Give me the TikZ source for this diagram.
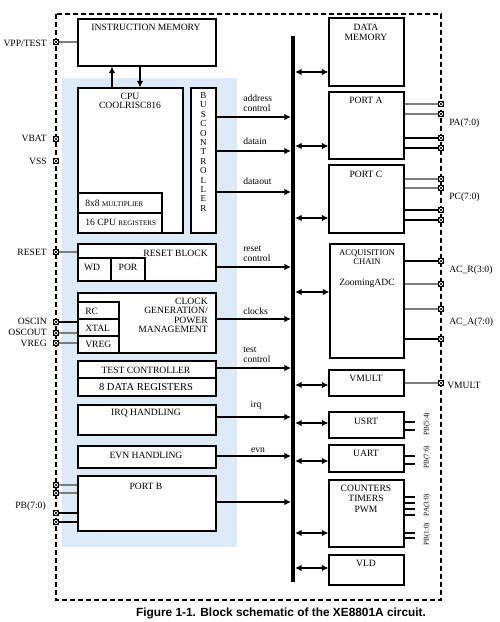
\documentclass[tikz,border=0pt]{standalone}
\usepackage{fontspec}
\setmainfont{Liberation Serif}
\newfontfamily\capfont{Liberation Sans}
\usetikzlibrary{arrows.meta,fit}
\definecolor{bluebg}{RGB}{221,234,247}
\definecolor{pingray}{RGB}{125,125,125}
\begin{document}
\begin{tikzpicture}[x=0.75pt,y=-0.75pt,
  box/.style={draw,line width=0.8pt,fill=white,inner sep=0pt},
  txt/.style={font=\fontsize{7.2}{8}\selectfont,inner sep=0pt},
  sm/.style={font=\fontsize{5.4}{6}\selectfont,inner sep=0pt},
  sig/.style={line width=1.6pt,-{Latex[length=5pt,width=5pt]},shorten >=1.5pt},
  sigin/.style={line width=1.6pt,{Latex[length=5pt,width=5pt]}-,shorten <=1.5pt},
  bidir/.style={line width=1.6pt,{Latex[length=5pt,width=5pt]}-{Latex[length=5pt,width=5pt]},shorten <=1.5pt},
  pinbox/.style={draw,fill=white,line width=0.6pt,minimum size=4pt,inner sep=0pt,
    path picture={\draw[line width=0.5pt] (path picture bounding box.north west)--(path picture bounding box.south east)
      (path picture bounding box.north east)--(path picture bounding box.south west);}},
  gl/.style={draw=pingray,line width=0.9pt},
  bl/.style={draw=black,line width=0.8pt},
]
\useasboundingbox (0,0) rectangle (500,622);
% frame and region
\draw[line width=1.1pt,dash pattern=on 3.8pt off 2.2pt] (56,14) rectangle (441,600);
\fill[bluebg] (62,78) rectangle (237,547);

% left blocks
\node[box,fit={(78,19) (216,66)}] (im) {};
\node[box,fit={(78,88) (183,233)}] (cpu) {};
\node[box,fit={(78,193) (162,213)}] (mul) {};
\node[box,fit={(78,213) (162,233)}] (reg) {};
\node[box,fit={(191,88) (216,233)}] (bc) {};
\node[box,fit={(78,244) (216,281)}] (rst) {};
\node[box,fit={(78,258) (111,281)}] (wd) {};
\node[box,fit={(111,258) (145,281)}] (por) {};
\node[box,fit={(78,293) (216,353)}] (clk) {};
\node[box,fit={(78,302) (119,319)}] (rc) {};
\node[box,fit={(78,319) (119,336)}] (xtal) {};
\node[box,fit={(78,336) (119,353)}] (vreg) {};
\node[box,fit={(78,361) (216,378)}] (tc) {};
\node[box,fit={(78,378) (216,396)}] (dr) {};
\node[box,fit={(78,405) (216,435)}] (irq) {};
\node[box,fit={(78,446) (216,468)}] (evn) {};
\node[box,fit={(78,476) (216,531)}] (pb) {};

% right blocks
\node[box,fit={(329,18) (404,86)}] (dm) {};
\node[box,fit={(329,92) (404,159)}] (pa) {};
\node[box,fit={(329,165) (404,233)}] (pc) {};
\node[box,fit={(330,244) (404,358)}] (acq) {};
\node[box,fit={(329,370) (404,396)}] (vm) {};
\node[box,fit={(329,412) (404,438)}] (usrt) {};
\node[box,fit={(329,445) (404,472)}] (uart) {};
\node[box,fit={(329,480) (404,547)}] (cnt) {};
\node[box,fit={(329,555) (404,585)}] (vld) {};

% texts in blocks
\node[txt] (t1) at (146,27) {INSTRUCTION MEMORY};
\node[txt,align=center,font=\fontsize{7.2}{6.8}\selectfont] (t2) at (130,100.5) {CPU\\COOLRISC816};
\node[txt,anchor=west] (t3) at (85,203) {8x8 {\fontsize{5.3}{6}\selectfont MULTIPLIER}};
\node[txt,anchor=west] (t4) at (85,222) {16 CPU {\fontsize{5.3}{6}\selectfont REGISTERS}};
\node[txt,align=center,font=\fontsize{6.8}{7.05}\selectfont] (t5) at (203.5,152) {B\\U\\S\\C\\O\\N\\T\\R\\O\\L\\L\\E\\R};
\node[txt,anchor=east] (t6) at (208,253) {RESET BLOCK};
\node[txt] (t7) at (92,267) {WD};
\node[txt] (t8) at (128,267) {POR};
\node[txt,anchor=east,align=right,font=\fontsize{7.2}{7}\selectfont] (t9) at (208,315.5) {CLOCK\\GENERATION/\\POWER\\MANAGEMENT};
\node[txt,anchor=west] (t10) at (85,311) {RC};
\node[txt,anchor=west] (t11) at (85,328) {XTAL};
\node[txt,anchor=west] (t12) at (85,344.5) {VREG};
\node[txt] (t13) at (146,370) {TEST CONTROLLER};
\node[txt,font=\fontsize{7.9}{8}\selectfont] (t14) at (146,387) {8 DATA REGISTERS};
\node[txt] (t15) at (146,413) {IRQ HANDLING};
\node[txt] (t16) at (146,455) {EVN HANDLING};
\node[txt] (t17) at (146,486) {PORT B};

\node[txt,align=center,font=\fontsize{7.2}{8}\selectfont] (r1) at (366,32.5) {DATA\\MEMORY};
\node[txt] (r2) at (366,100) {PORT A};
\node[txt] (r3) at (366,174) {PORT C};
\node[txt,align=center,font=\fontsize{6.5}{6.8}\selectfont] (r4) at (367,257.5) {ACQUISITION\\CHAIN};
\node[txt] (r5) at (367,283) {ZoomingADC};
\node[txt] (r6) at (366,378) {VMULT};
\node[txt] (r7) at (366,421) {USRT};
\node[txt] (r8) at (366,453) {UART};
\node[txt,align=center,font=\fontsize{7.2}{7.9}\selectfont] (r9) at (366,498.5) {COUNTERS\\TIMERS\\PWM};
\node[txt] (r10) at (366,563) {VLD};

% bus
\coordinate (bustop) at (293,36);
\coordinate (busbot) at (293,582);
\draw[line width=3pt] (bustop) -- (busbot);

% CPU <-> instruction memory
\draw[sig,shorten >=0pt] (cpu.north -| 112,0) -- (im.south -| 112,0);
\draw[sig,shorten >=0pt] (im.south -| 140,0) -- (cpu.north -| 140,0);

% left signals
\draw[sig] (bc.east |- 0,117) -- (bustop |- 0,117);
\draw[sig] (bc.east |- 0,151) -- (bustop |- 0,151);
\draw[sigin] (bustop |- 0,192) -- (bc.east |- 0,192);
\draw[sig] (rst.east |- 0,267) -- (bustop |- 0,267);
\draw[sig] (clk.east |- 0,319) -- (bustop |- 0,319);
\draw[sig] (tc.east |- 0,368) -- (bustop |- 0,368);
\draw[sigin] (bustop |- 0,417) -- (irq.east |- 0,417);
\draw[sigin] (bustop |- 0,456) -- (evn.east |- 0,456);
\draw[sigin] (bustop |- 0,502) -- (pb.east |- 0,502);

\node[txt,anchor=west,align=left,font=\fontsize{7.2}{7.5}\selectfont] (l1) at (243,103) {address\\control};
\node[txt,anchor=west] (l2) at (243,141) {datain};
\node[txt,anchor=west] (l3) at (243,181) {dataout};
\node[txt,anchor=west,align=left,font=\fontsize{7.2}{7.5}\selectfont] (l4) at (243,253.5) {reset\\control};
\node[txt,anchor=west] (l5) at (243,311) {clocks};
\node[txt,anchor=west,align=left,font=\fontsize{7.2}{7.5}\selectfont] (l6) at (243,355) {test\\control};
\node[txt] (l7) at (256,405) {irq};
\node[txt] (l8) at (258,450) {evn};

% right bidirectional
\draw[bidir] (bustop |- 0,72) -- (dm.west |- 0,72);
\draw[bidir] (bustop |- 0,146) -- (pa.west |- 0,146);
\draw[bidir] (bustop |- 0,218) -- (pc.west |- 0,218);
\draw[bidir] (bustop |- 0,292) -- (acq.west |- 0,292);
\draw[bidir] (bustop |- 0,385) -- (vm.west |- 0,385);
\draw[bidir] (bustop |- 0,423) -- (usrt.west |- 0,423);
\draw[bidir] (bustop |- 0,461) -- (uart.west |- 0,461);
\draw[bidir] (bustop |- 0,533) -- (cnt.west |- 0,533);
\draw[bidir] (bustop |- 0,568) -- (vld.west |- 0,568);

% left pins
\node[pinbox] (pvpp) at (56,42) {};
\node[pinbox] (pvbat) at (56,139) {};
\node[pinbox] (pvss) at (56,161) {};
\node[pinbox] (prst) at (56,252) {};
\node[pinbox] (posci) at (56,322) {};
\node[pinbox] (posco) at (56,333) {};
\node[pinbox] (pvrg) at (56,343) {};
\node[pinbox] (pb1) at (56,485) {};
\node[pinbox] (pb2) at (56,493) {};
\node[pinbox] (pb3) at (56,513) {};
\node[pinbox] (pb4) at (56,522) {};
\draw[gl] (pvpp.east) -- (im.west |- pvpp);
\draw[gl] (prst.east) -- (rst.west |- prst);
\draw[bl] (posci.east) -- (clk.west |- posci);
\draw[gl] (posco.east) -- (clk.west |- posco);
\draw[gl] (pvrg.east) -- (clk.west |- pvrg);
\draw[gl] (pb1.east) -- (pb.west |- pb1);
\draw[gl] (pb2.east) -- (pb.west |- pb2);
\draw[bl] (pb3.east) -- (pb.west |- pb3);
\draw[bl] (pb4.east) -- (pb.west |- pb4);

\node[txt,anchor=east] (n1) at (47,43) {VPP/TEST};
\node[txt,anchor=east] (n2) at (47,138) {VBAT};
\node[txt,anchor=east] (n3) at (47,161) {VSS};
\node[txt,anchor=east] (n4) at (47,252) {RESET};
\node[txt,anchor=east] (n5) at (47,321) {OSCIN};
\node[txt,anchor=east] (n6) at (47,332) {OSCOUT};
\node[txt,anchor=east] (n7) at (47,343) {VREG};
\node[txt,anchor=east] (n8) at (46,506) {PB(7:0)};

% right pins
\foreach \n/\y in {pa1/104,pa2/114,pa3/138,pa4/148,pc1/179,pc2/188,pc3/210,pc4/220,ac1/261,ac2/284,ac3/309,ac4/339,vmp/383}
  \node[pinbox] (\n) at (441,\y) {};
\draw[gl] (pa.east |- pa1) -- (pa1.west);
\draw[gl] (pa.east |- pa2) -- (pa2.west);
\draw[bl] (pa.east |- pa3) -- (pa3.west);
\draw[bl] (pa.east |- pa4) -- (pa4.west);
\draw[gl] (pc.east |- pc1) -- (pc1.west);
\draw[gl] (pc.east |- pc2) -- (pc2.west);
\draw[bl] (pc.east |- pc3) -- (pc3.west);
\draw[bl] (pc.east |- pc4) -- (pc4.west);
\draw[bl] (acq.east |- ac1) -- (ac1.west);
\draw[gl] (acq.east |- ac2) -- (ac2.west);
\draw[gl] (acq.east |- ac3) -- (ac3.west);
\draw[bl] (acq.east |- ac4) -- (ac4.west);
\draw[gl] (vm.east |- vmp) -- (vmp.west);

\node[txt,anchor=west] (m1) at (449,123) {PA(7:0)};
\node[txt,anchor=west] (m2) at (449,197) {PC(7:0)};
\node[txt,anchor=west] (m3) at (449,270) {AC\_R(3:0)};
\node[txt,anchor=west] (m4) at (449,322) {AC\_A(7:0)};
\node[txt,anchor=west] (m5) at (447,385) {VMULT};

% short pin lines
\foreach \n/\y in {u1/422,u2/430,v1/456,v2/464,c1/497,c2/503,c3/509,c4/515,c5/533,c6/538}
  \coordinate (\n) at (415,\y);
\foreach \n in {u1,u2}{\draw[bl] (usrt.east |- \n) -- (\n);}
\foreach \n in {v1,v2}{\draw[bl] (uart.east |- \n) -- (\n);}
\foreach \n in {c1,c2,c3,c4,c5,c6}{\draw[bl] (cnt.east |- \n) -- (\n);}
\node[sm,rotate=90] (s1) at (427,424) {PB(5:4)};
\node[sm,rotate=90] (s2) at (427,457) {PB(7:6)};
\node[sm,rotate=90] (s3) at (427,505) {PA(3:0)};
\node[sm,rotate=90] (s4) at (427,534) {PB(1:0)};

% caption
\node[inner sep=0pt,font=\capfont\bfseries\fontsize{8.9}{10}\selectfont] (cap) at (281,613) {Figure 1-1. Block schematic of the XE8801A circuit.};
\end{tikzpicture}
\end{document}
